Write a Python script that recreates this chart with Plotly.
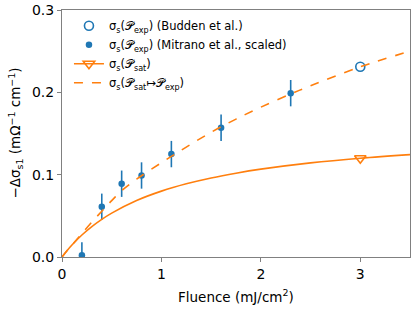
import plotly.graph_objects as go

# Data
mit_x = [0.2, 0.4, 0.6, 0.8, 1.1, 1.6, 2.3]
mit_y = [0.002, 0.061, 0.089, 0.099, 0.125, 0.157, 0.199]
mit_err = [0.016, 0.016, 0.016, 0.016, 0.016, 0.016, 0.016]

budden_x = [3.0]
budden_y = [0.231]

sat_pt_x = [3.0]
sat_pt_y = [0.120]

sat_x = [0.0, 0.05, 0.1, 0.2, 0.3, 0.4, 0.5, 0.75, 1.0, 1.25, 1.5, 1.75, 2.0, 2.5, 3.0, 3.5]
sat_y = [0.0, 0.0076, 0.0145, 0.0267, 0.0369, 0.0457, 0.0533, 0.0686, 0.0800, 0.0889, 0.0960, 0.1018, 0.1067, 0.1143, 0.1200, 0.1244]

map_x = [0.0, 0.05, 0.1, 0.15, 0.2, 0.3, 0.4, 0.5, 0.6, 0.75, 1.0, 1.25, 1.5, 1.75, 2.0, 2.3, 2.5, 3.0, 3.5]
map_y = [0.0, 0.0076, 0.0145, 0.0215, 0.0285, 0.0425, 0.0555, 0.0685, 0.0805, 0.0945, 0.1145, 0.1335, 0.1515, 0.1675, 0.1820, 0.1980, 0.2080, 0.2310, 0.2500]

blue = '#1f77b4'
orange = '#ff7f0e'
P = '\U0001D4AB'

fig = go.Figure()
fig.add_trace(go.Scatter(x=budden_x, y=budden_y, mode='markers',
                         marker=dict(symbol='circle-open', size=9, color=blue, line=dict(width=1.6)),
                         name=f'σ<sub>s</sub>({P}<sub>exp</sub>) (Budden et al.)'))
fig.add_trace(go.Scatter(x=mit_x, y=mit_y, mode='markers',
                         error_y=dict(type='data', array=mit_err, color=blue, thickness=1.6, width=0),
                         marker=dict(symbol='circle', size=6.5, color=blue),
                         name=f'σ<sub>s</sub>({P}<sub>exp</sub>) (Mitrano et al., scaled)'))
fig.add_trace(go.Scatter(x=sat_x, y=sat_y, mode='lines', line=dict(color=orange, width=1.6, shape='spline'),
                         showlegend=False))
fig.add_trace(go.Scatter(x=sat_pt_x, y=sat_pt_y, mode='lines+markers',
                         line=dict(color=orange, width=1.6),
                         marker=dict(symbol='triangle-down-open', size=10, color=orange, line=dict(width=1.6)),
                         name=f'σ<sub>s</sub>({P}<sub>sat</sub>)'))
fig.add_trace(go.Scatter(x=map_x, y=map_y, mode='lines', line=dict(color=orange, width=1.6, dash='dash', shape='spline'),
                         name=f'σ<sub>s</sub>({P}<sub>sat</sub>↦{P}<sub>exp</sub>)'))

axis_common = dict(showgrid=False, zeroline=False, showline=True, linecolor='#808080', linewidth=1,
                   mirror=True, ticks='outside', ticklen=4, tickcolor='#808080', automargin=False,
                   tickfont=dict(family='DejaVu Sans', size=14, color='black'))
fig.update_layout(
    width=415, height=312,
    margin=dict(l=62, r=5, t=10, b=55),
    plot_bgcolor='white', paper_bgcolor='white',
    font=dict(family='DejaVu Sans', color='black'),
    xaxis=dict(range=[0, 3.5], tickvals=[0, 1, 2, 3], ticktext=['0', '1', '2', '3'], **axis_common),
    yaxis=dict(range=[0, 0.3], tickvals=[0, 0.1, 0.2, 0.3], ticktext=['0.0', '0.1', '0.2', '0.3'], **axis_common),
    legend=dict(x=0.02, y=0.995, xanchor='left', yanchor='top', bgcolor='rgba(0,0,0,0)',
                font=dict(size=11.5, family='DejaVu Sans'), tracegroupgap=0),
    showlegend=True,
    annotations=[
        dict(text='Fluence (mJ/cm<sup>2</sup>)', xref='paper', yref='paper', x=0.5, y=-0.158,
             xanchor='center', yanchor='middle', showarrow=False, font=dict(size=13.5)),
        dict(text='−Δσ<sub>s1</sub> (mΩ<sup>−1</sup> cm<sup>−1</sup>)', xref='paper', yref='paper',
             x=-0.135, y=0.5, xanchor='center', yanchor='middle', textangle=-90, showarrow=False,
             font=dict(size=13.5)),
    ],
)
fig.write_html('out.html', config={'displayModeBar': False},
               post_script="document.body.style.margin='0px';")
